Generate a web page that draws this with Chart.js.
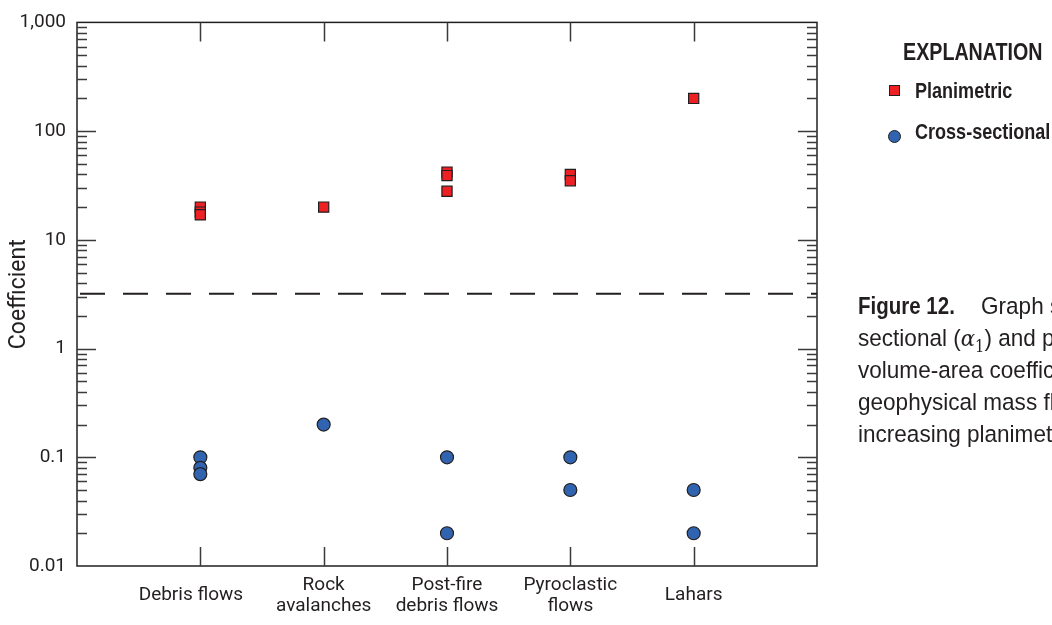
<!DOCTYPE html>
<html>
<head>
<meta charset="utf-8">
<script src="https://cdn.jsdelivr.net/npm/chart.js@4/dist/chart.umd.min.js"></script>
<style>
    html, body { margin: 0; padding: 0; background: #fff; }
    body { width: 1052px; height: 625px; overflow: hidden; position: relative; }
    #wrap { position: absolute; left: 0; top: 0; width: 1052px; height: 625px; }
    /* condensed look: Liberation Sans squeezed horizontally */
    .narrow { font-family: "Liberation Sans", Arial, sans-serif; color: #231f20; position: absolute; white-space: nowrap; transform: scaleX(0.82); transform-origin: 0 0; }
    #legend-title { left: 903px; top: 40px; font-size: 24px; line-height: 24px; font-weight: bold; }
    .legend-item { left: 915px; font-size: 22px; line-height: 22px; font-weight: bold; }
    .swatch { position: absolute; box-sizing: border-box; border: 1px solid #231f20; }
    #caption { left: 858px; top: 290px; font-size: 24.5px; line-height: 32px; transform: scaleX(0.92); }
    #caption .fig { display: inline-block; font-weight: bold; transform: scaleX(0.91); transform-origin: 0 0; }
    #caption .gap { display: inline-block; width: 18px; }
    #caption .alpha { font-family: "DejaVu Serif", serif; font-style: italic; font-size: 23px; }
    #caption sub { font-family: "DejaVu Serif", serif; font-size: 16px; line-height: 0; }
</style>
</head>
<body>
<div id="wrap"><canvas id="coefChart" width="1052" height="625"></canvas></div>

<div id="legend-title" class="narrow">EXPLANATION</div>
<div class="swatch" style="left:889px; top:85px; width:11px; height:11px; background:#ed2024;"></div>
<div class="narrow legend-item" style="top:80px;">Planimetric</div>
<div class="swatch" style="left:888px; top:130px; width:13px; height:13px; border-radius:50%; background:#3064b0;"></div>
<div class="narrow legend-item" style="top:121px;">Cross-sectional</div>

<div id="caption" class="narrow">
    <span class="fig">Figure 12.</span><span class="gap"></span>Graph showing cross-<br>
    sectional (<span class="alpha">α</span><sub>1</sub>) and planimetric (<span class="alpha">α</span><sub>2</sub>)<br>
    volume-area coefficients for different<br>
    geophysical mass flows, ordered by<br>
    increasing planimetric coefficient.
</div>

<script>
    // categories (x positions 1..5 on a 0..6 axis)
    const categories = ['Debris flows', 'Rock avalanches', 'Post-fire debris flows', 'Pyroclastic flows', 'Lahars'];
    // the first label sits a little left of its tick in the original, hence the trailing spaces
    const categoryLines = [['Debris flows    '], ['Rock', 'avalanches'], ['Post-fire', 'debris flows'], ['Pyroclastic', 'flows'], ['Lahars']];

    // coefficient values, one list per category
    const planimetric = [[20, 18, 17], [20], [42, 39, 28], [40, 35], [200]];
    const crossSectional = [[0.1, 0.08, 0.07], [0.2], [0.1, 0.02], [0.1, 0.05], [0.05, 0.02]];

    const divider = 3.2;
    const yTickValues = [0.01, 0.1, 1, 10, 100, 1000];
    const yTickLabels = ['0.01', '0.1', '1', '10', '100', '1,000'];

    const ink = '#231f20';

    function toPoints(groups) {
        const pts = [];
        groups.forEach((vals, i) => vals.forEach(v => pts.push({ x: i + 1, y: v })));
        return pts;
    }

    // box frame plus inward tick marks on all four sides
    const frameTicks = {
        id: 'frameTicks',
        beforeDatasetsDraw(chart) {
            const { ctx, chartArea: a, scales } = chart;
            const x = scales.x, y = scales.y;
            ctx.save();
            ctx.strokeStyle = ink;
            ctx.lineWidth = 1.5;
            ctx.strokeRect(a.left, a.top, a.right - a.left, a.bottom - a.top);

            ctx.strokeStyle = '#3a3a3a';
            ctx.beginPath();
            for (let k = -2; k <= 2; k++) {
                for (let m = 1; m <= 9; m++) {
                    if (m === 1 && k === -2) continue;
                    const py = Math.round(y.getPixelForValue(m * Math.pow(10, k))) + 0.5;
                    const len = m === 1 ? 19 : 10;
                    ctx.moveTo(a.left, py); ctx.lineTo(a.left + len, py);
                    ctx.moveTo(a.right, py); ctx.lineTo(a.right - len, py);
                }
            }
            categories.forEach((c, i) => {
                const px = Math.round(x.getPixelForValue(i + 1)) + 0.5;
                ctx.moveTo(px, a.bottom); ctx.lineTo(px, a.bottom - 19);
                ctx.moveTo(px, a.top); ctx.lineTo(px, a.top + 19);
            });
            ctx.stroke();
            ctx.restore();
        }
    };

    function renderChart() {
        new Chart(document.getElementById('coefChart').getContext('2d'), {
            type: 'scatter',
            data: {
                datasets: [
                    {
                        type: 'line',
                        label: 'divider',
                        data: [{ x: 0, y: divider }, { x: 6, y: divider }],
                        showLine: true,
                        borderColor: ink,
                        borderWidth: 2,
                        borderDash: [25, 18],
                        borderDashOffset: 40,
                        pointRadius: 0
                    },
                    {
                        label: 'Cross-sectional',
                        data: toPoints(crossSectional),
                        pointStyle: 'circle',
                        pointRadius: 6.5,
                        backgroundColor: '#3064b0',
                        borderColor: ink,
                        borderWidth: 1.2
                    },
                    {
                        label: 'Planimetric',
                        data: toPoints(planimetric),
                        pointStyle: 'rect',
                        pointRadius: 7.2,
                        backgroundColor: '#ed2024',
                        borderColor: ink,
                        borderWidth: 1.2
                    }
                ]
            },
            options: {
                responsive: false,
                animation: false,
                events: [],
                layout: { padding: { top: 20, right: 235, bottom: 0, left: 0 } },
                plugins: { legend: { display: false }, tooltip: { enabled: false } },
                scales: {
                    x: {
                        type: 'linear',
                        min: 0,
                        max: 6,
                        grid: { display: false, drawTicks: false },
                        border: { display: false },
                        afterBuildTicks: s => { s.ticks = categories.map((c, i) => ({ value: i + 1 })); },
                        afterFit: s => { s.height = 59; },
                        ticks: {
                            callback: v => categoryLines[v - 1],
                            autoSkip: false,
                            maxRotation: 0,
                            crossAlign: 'center',
                            padding: 19,
                            color: ink,
                            font: { family: 'Roboto', size: 19, lineHeight: '21px' }
                        }
                    },
                    y: {
                        type: 'logarithmic',
                        min: 0.01,
                        max: 1000,
                        grid: { display: false, drawTicks: false },
                        border: { display: false },
                        afterBuildTicks: s => { s.ticks = yTickValues.map(v => ({ value: v })); },
                        afterFit: s => { s.width = 77; },
                        ticks: {
                            callback: v => yTickLabels[yTickValues.indexOf(v)],
                            autoSkip: false,
                            padding: 11,
                            color: ink,
                            font: { family: 'Roboto', size: 19 }
                        },
                        title: {
                            display: true,
                            text: 'Coefficient',
                            color: ink,
                            padding: { top: 5, bottom: 0 },
                            font: { family: 'Roboto', size: 23 }
                        }
                    }
                }
            },
            plugins: [frameTicks]
        });
    }

    window.onload = renderChart;
</script>
</body>
</html>
